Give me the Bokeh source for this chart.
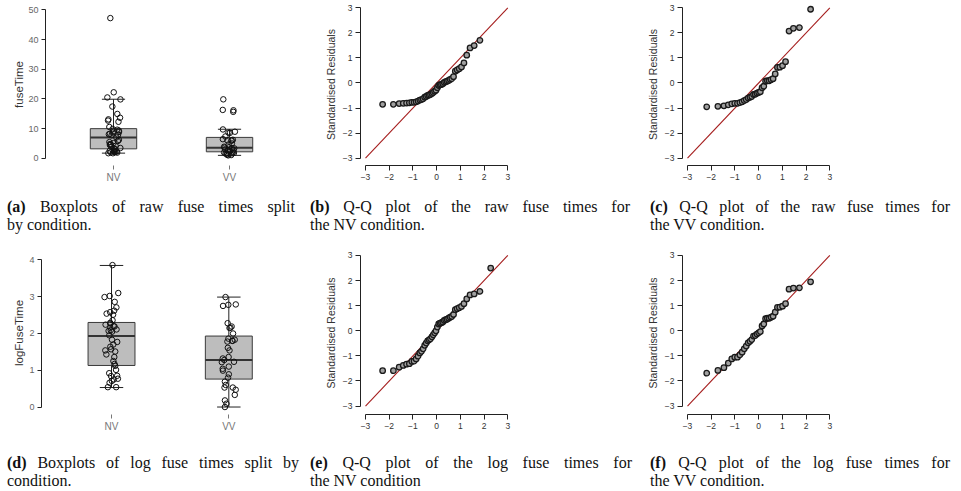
from statistics import NormalDist
from bokeh.plotting import figure
from bokeh.layouts import column, row
from bokeh.models import Div, FixedTicker, Range1d, ColumnDataSource
from bokeh.transform import jitter
from bokeh.embed import file_html
from bokeh.resources import INLINE

# ---------------- data ----------------
conditions = ["NV", "VV"]

nv_fuse_time = [1.72, 1.72, 1.93, 2.04, 2.12, 2.16, 2.32, 2.34, 2.52, 2.75,
                3.06, 3.21, 3.48, 3.90, 4.19, 4.51, 4.66, 4.81, 5.13, 5.47,
                5.84, 6.23, 7.04, 7.76, 7.95, 8.08, 8.28, 8.69, 8.90, 9.05,
                9.35, 9.65, 9.89, 10.56, 12.31, 12.72, 13.13, 13.68, 14.95, 17.44,
                19.85, 20.51, 22.24, 47.23]
vv_fuse_time = [1.00, 1.10, 1.20, 1.39, 1.60, 1.69, 1.69, 1.82, 1.99, 2.22,
                2.43, 2.70, 2.84, 3.01, 3.37, 3.43, 3.60, 3.75, 3.91, 4.68,
                5.00, 5.94, 6.04, 6.04, 6.24, 6.45, 7.36, 8.60, 8.67, 8.96,
                9.73, 15.66, 16.18, 16.31, 19.87]

nv_log_fuse_time = [0.54, 0.54, 0.66, 0.71, 0.75, 0.77, 0.84, 0.85, 0.92, 1.01,
                    1.12, 1.17, 1.25, 1.36, 1.43, 1.51, 1.54, 1.57, 1.64, 1.70,
                    1.77, 1.83, 1.95, 2.05, 2.07, 2.09, 2.11, 2.16, 2.19, 2.20,
                    2.24, 2.27, 2.29, 2.36, 2.51, 2.54, 2.58, 2.62, 2.71, 2.86,
                    2.99, 3.02, 3.10, 3.86]
vv_log_fuse_time = [0.00, 0.09, 0.18, 0.33, 0.47, 0.53, 0.53, 0.60, 0.69, 0.80,
                    0.89, 0.99, 1.04, 1.10, 1.22, 1.23, 1.28, 1.32, 1.36, 1.54,
                    1.61, 1.78, 1.80, 1.80, 1.83, 1.86, 2.00, 2.15, 2.16, 2.19,
                    2.28, 2.75, 2.78, 2.79, 2.99]

# box summaries (lower whisker, Q1, median, Q3, upper whisker) per condition
raw_whisker_low = [1.75, 1.00]
raw_q1 = [3.20, 2.20]
raw_median = [7.00, 3.55]
raw_q3 = [10.00, 7.05]
raw_whisker_high = [19.90, 9.80]

log_whisker_low = [0.53, 0.00]
log_q1 = [1.13, 0.76]
log_median = [1.93, 1.28]
log_q3 = [2.30, 1.93]
log_whisker_high = [3.85, 2.99]

raw_y_ticks = [0, 10, 20, 30, 40, 50]
log_y_ticks = [0, 1, 2, 3, 4]
qq_ticks = [-3, -2, -1, 0, 1, 2, 3]

# standardised residuals (sorted) for the Q-Q plots
nv_raw_std_resid = [-0.85, -0.85, -0.82, -0.81, -0.80, -0.79, -0.77, -0.77, -0.75, -0.72,
                    -0.68, -0.66, -0.63, -0.57, -0.54, -0.50, -0.48, -0.46, -0.42, -0.38,
                    -0.33, -0.29, -0.19, -0.10, -0.07, -0.06, -0.03, 0.02, 0.05, 0.07,
                    0.10, 0.14, 0.17, 0.25, 0.47, 0.52, 0.57, 0.64, 0.80, 1.11,
                    1.40, 1.49, 1.70, 4.80]
vv_raw_std_resid = [-0.95, -0.93, -0.91, -0.87, -0.83, -0.81, -0.81, -0.78, -0.75, -0.70,
                    -0.66, -0.60, -0.57, -0.54, -0.46, -0.45, -0.41, -0.38, -0.35, -0.19,
                    -0.13, 0.07, 0.09, 0.09, 0.13, 0.17, 0.36, 0.62, 0.63, 0.69,
                    0.85, 2.07, 2.18, 2.21, 2.94]
nv_log_std_resid = [-1.59, -1.59, -1.45, -1.38, -1.33, -1.31, -1.22, -1.21, -1.12, -1.01,
                    -0.88, -0.82, -0.72, -0.58, -0.49, -0.40, -0.36, -0.32, -0.24, -0.16,
                    -0.08, 0.00, 0.15, 0.27, 0.30, 0.32, 0.35, 0.41, 0.44, 0.46,
                    0.50, 0.54, 0.57, 0.65, 0.84, 0.88, 0.92, 0.97, 1.08, 1.27,
                    1.43, 1.47, 1.57, 2.50]
vv_log_std_resid = [-1.69, -1.58, -1.47, -1.29, -1.12, -1.05, -1.05, -0.96, -0.85, -0.72,
                    -0.61, -0.48, -0.42, -0.35, -0.21, -0.19, -0.13, -0.08, -0.03, 0.19,
                    0.27, 0.48, 0.50, 0.50, 0.54, 0.58, 0.74, 0.93, 0.94, 0.98,
                    1.08, 1.66, 1.70, 1.71, 1.95]

caption_tags = ["(a)", "(b)", "(c)", "(d)", "(e)", "(f)"]
caption_line1 = ["Boxplots of raw fuse times split",
                 "Q-Q plot of the raw fuse times for",
                 "Q-Q plot of the raw fuse times for",
                 "Boxplots of log fuse times split by",
                 "Q-Q plot of the log fuse times for",
                 "Q-Q plot of the log fuse times for"]
caption_line2 = ["by condition.", "the NV condition.", "the VV condition.",
                 "condition.", "the NV condition", "the VV condition."]

# ---------------- styling helpers ----------------
SANS = "Liberation Sans"
SERIF = "Liberation Serif"


def base_axis(ax, tick_color, tick_size):
    ax.axis_line_color = "#222222"
    ax.axis_line_width = 1
    ax.major_tick_line_color = "#222222"
    ax.minor_tick_line_color = None
    ax.major_tick_in = 0
    ax.major_tick_out = 5
    ax.major_label_text_font = SANS
    ax.major_label_text_font_size = tick_size
    ax.major_label_text_color = tick_color
    ax.major_label_standoff = 3
    ax.axis_label_text_font = SANS
    ax.axis_label_text_font_style = "normal"
    ax.axis_label_text_color = "#333333"


def new_fig(w, h, bl, br, bt, bb, xr, yr):
    p = figure(width=w, height=h, x_range=Range1d(*xr), y_range=Range1d(*yr),
               output_backend="svg", toolbar_location=None,
               min_border_left=bl, min_border_right=br,
               min_border_top=bt, min_border_bottom=bb)
    p.xgrid.visible = False
    p.ygrid.visible = False
    p.outline_line_color = None
    p.background_fill_color = "white"
    p.border_fill_color = "white"
    return p


def box_panel(groups, lo, q1, med, q3, hi, ylabel, yticks, label_standoff,
              bl, br, bt, bb, xr, yr):
    p = new_fig(300, 190, bl, br, bt, bb, xr, yr)
    pos = [i + 1 for i in range(len(conditions))]
    src = ColumnDataSource(dict(
        x=pos, lo=lo, q1=q1, med=med, q3=q3, hi=hi,
        left=[x - 0.2 for x in pos], right=[x + 0.2 for x in pos],
        cl=[x - 0.1 for x in pos], cr=[x + 0.1 for x in pos]))
    p.segment(x0="x", y0="lo", x1="x", y1="hi", source=src, line_color="#222222", line_width=1)
    p.segment(x0="cl", y0="hi", x1="cr", y1="hi", source=src, line_color="#222222", line_width=1)
    p.segment(x0="cl", y0="lo", x1="cr", y1="lo", source=src, line_color="#222222", line_width=1)
    p.quad(left="left", right="right", bottom="q1", top="q3", source=src,
           fill_color="#bdbdbd", line_color="#3a3a3a", line_width=1)
    p.segment(x0="left", y0="med", x1="right", y1="med", source=src,
              line_color="#333333", line_width=2)
    for xi, vals in zip(pos, groups):
        s = ColumnDataSource(dict(x=[xi] * len(vals), y=vals))
        p.scatter(x=jitter("x", width=0.12), y="y", source=s, size=5.5,
                  fill_alpha=0, line_color="#111111", line_width=1)
    base_axis(p.yaxis[0], "#666666", "9px")
    p.yaxis.ticker = FixedTicker(ticks=yticks)
    p.yaxis.bounds = (yticks[0], yticks[-1])
    p.yaxis.major_tick_out = 4
    p.yaxis.axis_label = ylabel
    p.yaxis.axis_label_text_font_size = "11.5px"
    p.yaxis.axis_label_standoff = label_standoff
    base_axis(p.xaxis[0], "#777777", "10px")
    p.xaxis.axis_line_color = None
    p.xaxis.major_tick_line_color = "#777777"
    p.xaxis.major_tick_out = 4
    p.xaxis.major_label_standoff = 2
    p.xaxis.ticker = FixedTicker(ticks=pos)
    p.xaxis.major_label_overrides = {x: c for x, c in zip(pos, conditions)}
    return p


def qq_panel(resid, w, bl, br, bt, bb, xr, yr):
    p = new_fig(w, 190, bl, br, bt, bb, xr, yr)
    n = len(resid)
    nd = NormalDist()
    theo = [nd.inv_cdf((i + 0.5) / n) for i in range(n)]
    p.line(x=[qq_ticks[0], qq_ticks[-1]], y=[qq_ticks[0], qq_ticks[-1]],
           line_color="#a51d1d", line_width=1.1)
    p.scatter(x=theo, y=sorted(resid), size=5.5, fill_color="#a0a0a0",
              line_color="#1a1a1a", line_width=1.3)
    for ax in (p.xaxis[0], p.yaxis[0]):
        base_axis(ax, "#333333", "8.5px")
        ax.ticker = FixedTicker(ticks=qq_ticks)
        ax.bounds = (qq_ticks[0], qq_ticks[-1])
    p.yaxis.axis_label = "Standardised Residuals"
    p.yaxis.axis_label_text_font_size = "10.5px"
    p.yaxis.axis_label_standoff = 3
    return p


def caption(i, w, h, left_pad, top_pad, line_w):
    html = (
        f'<div style="font-family:\'{SERIF}\',serif;font-size:16px;line-height:18px;'
        f'color:#111;padding-left:{left_pad}px;padding-top:{top_pad}px;">'
        f'<div style="width:{line_w}px;text-align:justify;text-align-last:justify;">'
        f'<b>{caption_tags[i]}</b> {caption_line1[i]}</div>'
        f'<div>{caption_line2[i]}</div></div>'
    )
    return Div(text=html, width=w, height=h, margin=0)


# ---------------- panels ----------------
qq_x = (-3.211, 3.324)
pa = box_panel([nv_fuse_time, vv_fuse_time], raw_whisker_low, raw_q1, raw_median, raw_q3,
               raw_whisker_high, "fuseTime", raw_y_ticks, 0, 45, 3, 3, 22,
               (0.4138, 2.586), (-2.414, 52.15))
pb = qq_panel(nv_raw_std_resid, 340, 60, 125, 3, 25, qq_x, (-3.291, 3.17))
pc = qq_panel(vv_raw_std_resid, 321, 42, 124, 3, 25, qq_x, (-3.291, 3.17))

pd_ = box_panel([nv_log_fuse_time, vv_log_fuse_time], log_whisker_low, log_q1, log_median, log_q3,
                log_whisker_high, "logFuseTime", log_y_ticks, 1, 41, 2, 3, 19,
                (0.4032, 2.594), (-0.2032, 4.2296))
pe = qq_panel(nv_log_std_resid, 340, 60, 125, 6, 21, qq_x, (-3.335, 3.159))
pf = qq_panel(vv_log_std_resid, 321, 42, 124, 6, 21, qq_x, (-3.335, 3.159))

cap_row1 = row(caption(0, 300, 55, 7, 8, 288), caption(1, 340, 55, 10, 8, 320),
               caption(2, 321, 55, 10, 8, 300), spacing=0)
cap_row2 = row(caption(3, 300, 56, 7, 19, 292), caption(4, 340, 56, 10, 19, 322),
               caption(5, 321, 56, 10, 19, 300), spacing=0)

layout = column(row(pa, pb, pc, spacing=0), cap_row1,
                row(pd_, pe, pf, spacing=0), cap_row2, spacing=0)

open("out.html", "w").write(file_html(layout, INLINE, title="Fuse times"))
